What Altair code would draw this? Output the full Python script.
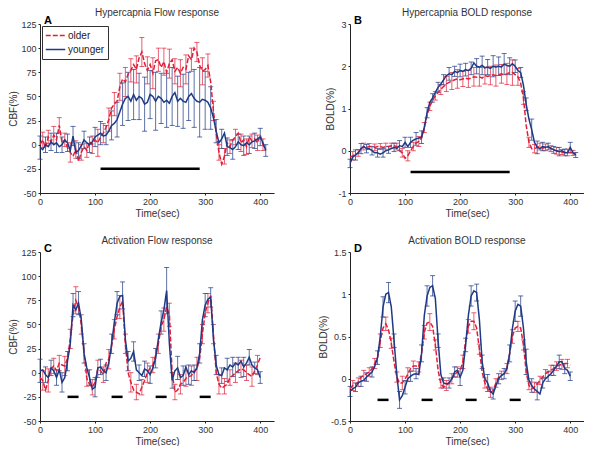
import altair as alt
import pandas as pd

# ---------------- time grids ----------------
T_HYP = list(range(0, 415, 5))   # 0..410
T_ACT = list(range(0, 405, 5))   # 0..400

# ---------------- Panel A: Hypercapnia Flow (CBF %) ----------------
A_older = [0, 5, -3, 8, 3, 10, 5, 20, 2, 5, -3, -8, -12, -5, -17, -8, -2, -6, 3, 0,
           5, 2, 8, 12, 18, 26, 38, 42, 45, 60, 68, 65, 73, 77, 83, 78, 90, 96, 84, 77,
           83, 74, 87, 88, 80, 86, 75, 84, 88, 76, 80, 74, 80, 78, 92, 88, 100, 96, 82, 76,
           78, 82, 65, 35, 12, -8, -20, -12, 2, -2, 5, 8, 12, 2, 5, -2, 8, 4, 6, 2,
           10, 0, -5]
A_younger = [-3, -5, 0, -2, 3, 0, 2, -2, 0, 5, 2, -6, 9, -8, -6, -1, 5, 2, 0, 3,
             8, 10, 12, 9, 10, 14, 20, 22, 26, 34, 42, 48, 50, 45, 52, 46, 50, 48, 42, 44,
             52, 50, 45, 50, 48, 44, 46, 43, 50, 54, 45, 48, 45, 44, 50, 53, 48, 45, 44, 47,
             46, 44, 38, 28, 14, 2, 6, 12, -2, -3, -5, -2, 3, 0, -1, 2, 0, 3, 4, 6,
             8, 2, -6]
A_err_t_older = list(range(5, 410, 10))
A_err_older = [8, 7, 9, 8, 7, 10, 9, 8, 7, 9, 14, 10, 12, 12, 14, 15, 12, 14, 15, 14,
               16, 12, 14, 15, 13, 14, 15, 12, 10, 14, 12, 10, 8, 8, 7, 8, 9, 8, 7, 8, 6]
A_err_t_younger = list(range(0, 415, 10))
A_err_younger = [12, 8, 9, 10, 8, 9, 10, 8, 9, 8, 10, 12, 10, 15, 18, 22, 25, 26, 24, 28,
                 25, 30, 26, 28, 30, 26, 28, 25, 30, 36, 30, 22, 12, 10, 9, 10, 8, 10, 9, 8,
                 9, 6]

# ---------------- Panel B: Hypercapnia BOLD (%) ----------------
B_older = [-0.15, -0.12, -0.08, -0.05, 0.05, 0.1, 0.08, 0.1, 0.1, 0.08, 0.1, 0.1, 0.08, 0.1,
           0.1, 0.12, 0.12, 0.1, 0.0, -0.05, -0.18, -0.12, 0.0, 0.1, 0.18, 0.22, 0.3, 0.55,
           0.85, 1.05, 1.2, 1.3, 1.38, 1.45, 1.52, 1.58, 1.62, 1.65, 1.68, 1.7, 1.68, 1.7,
           1.72, 1.7, 1.72, 1.75, 1.74, 1.75, 1.72, 1.78, 1.76, 1.78, 1.8, 1.78, 1.8, 1.82,
           1.8, 1.82, 1.85, 1.85, 1.8, 1.75, 1.6, 1.25, 0.6, 0.2, 0.05, 0.05, 0.08, 0.1,
           0.06, 0.08, 0.08, 0.05, 0.02, 0.0, -0.02, -0.03, -0.05, -0.04, -0.05, -0.05, -0.08]
B_younger = [-0.3, -0.15, -0.1, -0.05, 0.05, 0.1, 0.05, 0.05, 0.0, -0.05, -0.05, -0.08, -0.05,
             0.0, 0.02, 0.05, 0.08, 0.06, 0.12, 0.1, 0.2, 0.1, 0.2, 0.25, 0.28, 0.3, 0.32,
             0.55, 0.9, 1.15, 1.25, 1.38, 1.5, 1.58, 1.68, 1.78, 1.82, 1.8, 1.88, 1.85, 1.9,
             1.88, 1.92, 1.9, 1.95, 2.08, 2.0, 1.98, 2.02, 1.96, 1.98, 1.95, 2.0, 1.98, 2.0,
             1.98, 2.05, 2.02, 2.0, 2.06, 2.0, 1.9, 1.85, 1.55, 1.1, 0.75, 0.5, 0.2, 0.08,
             0.05, 0.1, 0.08, 0.1, 0.06, 0.02, 0.0, -0.02, 0.0, -0.04, -0.05, 0.08, -0.05, -0.1]
B_err_t_older = list(range(5, 410, 10))
B_err_older = [0.1, 0.08, 0.08, 0.07, 0.08, 0.07, 0.08, 0.06, 0.08, 0.1, 0.12, 0.1, 0.12, 0.12,
               0.1, 0.1, 0.12, 0.18, 0.2, 0.22, 0.18, 0.2, 0.22, 0.22, 0.2, 0.22, 0.25, 0.22,
               0.25, 0.3, 0.2, 0.15, 0.12, 0.1, 0.08, 0.08, 0.07, 0.08, 0.06, 0.08, 0.06]
B_err_t_younger = list(range(0, 415, 10))
B_err_younger = [0.1, 0.12, 0.12, 0.1, 0.1, 0.1, 0.1, 0.08, 0.1, 0.12, 0.12, 0.12, 0.15, 0.15,
                 0.12, 0.1, 0.12, 0.12, 0.15, 0.12, 0.15, 0.15, 0.15, 0.18, 0.22, 0.18, 0.25,
                 0.22, 0.25, 0.2, 0.15, 0.12, 0.15, 0.25, 0.15, 0.1, 0.08, 0.08, 0.1, 0.08,
                 0.12, 0.06]

# ---------------- Panel C: Activation Flow (CBF %) ----------------
C_older = [-5, -8, -18, -8, 4, 7, 2, 10, 8, 7, 15, 35, 60, 75, 68, 50, 20, -6, -12, -15,
           -10, 4, 2, -2, 10, 14, 27, 45, 58, 68, 74, 30, 0, -10, -18, -20, -22, -15, -8, 0,
           5, 8, 18, 30, 48, 55, 68, 60, 0, -20, -18, -12, -10, -6, -4, -3, 2, 4, 15, 40,
           62, 72, 80, 40, 0, -12, -16, -14, -12, -5, -3, 0, 2, 4, 3, 0, -2, -4, 2, 8, 16]
C_younger = [2, 3, -2, -5, 5, 2, -5, 3, -10, -5, 12, 30, 70, 65, 72, 55, 20, 5, -5, -17,
             -15, 5, 6, 2, 0, 10, 30, 52, 72, 79, 80, 35, 12, 15, 22, 3, 0, -3, 4, 2,
             -2, 5, 15, 35, 52, 65, 85, 30, -8, 2, 5, -5, -3, 6, -2, 2, 0, 5, 20, 55,
             70, 76, 78, 35, 8, -2, -3, 5, 3, 8, 6, 10, 8, 12, 6, 10, 16, 8, 5, 3, -5]
C_err_t_older = list(range(5, 400, 10))
C_err_older = [10, 12, 8, 8, 10, 10, 14, 10, 8, 8, 9, 8, 10, 10, 12, 10, 10, 8, 8, 10,
               8, 10, 12, 12, 8, 10, 8, 10, 12, 10, 10, 10, 10, 8, 8, 10, 9, 8, 10, 10]
C_err_t_younger = list(range(0, 405, 10))
C_err_younger = [12, 8, 8, 8, 10, 10, 12, 12, 10, 8, 10, 8, 8, 10, 12, 14, 10, 10, 8, 8,
                 9, 10, 12, 24, 8, 12, 10, 10, 8, 10, 12, 10, 10, 8, 12, 10, 8, 10, 8, 6, 6]

# ---------------- Panel D: Activation BOLD (%) ----------------
D_older = [-0.12, -0.08, -0.06, -0.04, 0.02, 0.04, 0.06, 0.08, 0.12, 0.18, 0.25, 0.45, 0.6,
           0.65, 0.58, 0.42, 0.2, 0.02, -0.05, -0.05, 0.0, 0.05, 0.12, 0.15, 0.15, 0.14, 0.3,
           0.55, 0.66, 0.67, 0.62, 0.4, 0.1, -0.06, -0.1, -0.08, -0.05, 0.0, 0.05, 0.08, 0.1,
           0.2, 0.45, 0.62, 0.68, 0.68, 0.6, 0.35, 0.08, -0.05, -0.12, -0.16, -0.14, -0.05,
           0.02, 0.04, 0.06, 0.12, 0.3, 0.5, 0.6, 0.62, 0.6, 0.4, 0.08, -0.08, -0.12, -0.1,
           -0.06, -0.02, 0.02, 0.06, 0.08, 0.1, 0.12, 0.15, 0.16, 0.17, 0.18, 0.18, 0.16]
D_younger = [-0.15, -0.12, -0.1, -0.05, -0.03, -0.02, 0.02, 0.05, 0.08, 0.15, 0.25, 0.5, 0.85,
             1.0, 1.02, 0.85, 0.45, 0.05, -0.25, -0.2, -0.1, 0.0, 0.03, 0.05, 0.06, 0.05, 0.3,
             0.75, 0.98, 1.08, 1.1, 0.95, 0.45, 0.05, -0.05, -0.06, -0.05, 0.0, 0.08, 0.1, 0.02,
             0.1, 0.4, 0.75, 0.98, 1.04, 1.02, 0.7, 0.2, 0.0, -0.05, -0.15, -0.18, -0.08, 0.0,
             0.04, 0.06, 0.12, 0.3, 0.6, 0.8, 0.88, 0.86, 0.6, 0.2, -0.02, -0.08, -0.12, -0.15,
             -0.18, -0.05, 0.0, 0.03, 0.06, 0.1, 0.15, 0.2, 0.2, 0.12, 0.1, 0.03]
D_err_t_older = list(range(5, 400, 10))
D_err_older = [0.06, 0.05, 0.06, 0.05, 0.06, 0.08, 0.08, 0.06, 0.06, 0.08, 0.08, 0.06, 0.06,
               0.08, 0.1, 0.06, 0.05, 0.06, 0.06, 0.06, 0.08, 0.08, 0.1, 0.06, 0.06, 0.06,
               0.05, 0.05, 0.06, 0.08, 0.06, 0.06, 0.05, 0.06, 0.05, 0.05, 0.06, 0.05, 0.06, 0.05]
D_err_t_younger = list(range(0, 405, 10))
D_err_younger = [0.06, 0.05, 0.06, 0.05, 0.06, 0.08, 0.12, 0.12, 0.08, 0.1, 0.08, 0.06, 0.06,
                 0.1, 0.12, 0.12, 0.08, 0.06, 0.06, 0.06, 0.1, 0.08, 0.12, 0.1, 0.08, 0.1, 0.06,
                 0.06, 0.06, 0.1, 0.12, 0.12, 0.15, 0.08, 0.1, 0.06, 0.06, 0.06, 0.08, 0.06, 0.05]

# ---------------- stimulus periods ----------------
HYP_STIM_START = [110]
HYP_STIM_END = [290]
ACT_STIM_START = [50, 130, 210, 290]
ACT_STIM_END = [70, 150, 230, 310]

X_TICKS = [0, 100, 200, 300, 400]
CBF_TICKS = [-50, -25, 0, 25, 50, 75, 100, 125]
HBOLD_TICKS = [-1, 0, 1, 2, 3]
ABOLD_TICKS = [-0.5, 0, 0.5, 1, 1.5]
GROUPS = ["older", "younger"]

RED = "#e0203a"
BLUE = "#1f3a85"
FONT = "Liberation Sans"
W, H = 234, 169


def panel(title, letter, ylab, ydom, yticks, times, older, younger,
          et_old, e_old, et_young, e_young, stim_s, stim_e, stim_y, show_legend):
    n = len(times)
    df = pd.DataFrame({"t": times + times, "v": older + younger,
                       "group": ["older"] * n + ["younger"] * n})
    lo_old = dict(zip(times, older))
    lo_young = dict(zip(times, younger))
    centers = [lo_old[t] for t in et_old] + [lo_young[t] for t in et_young]
    halfw = e_old + e_young
    err = pd.DataFrame({
        "t": et_old + et_young,
        "lo": [c - e for c, e in zip(centers, halfw)],
        "hi": [c + e for c, e in zip(centers, halfw)],
        "group": ["older"] * len(et_old) + ["younger"] * len(et_young),
    })
    stim = pd.DataFrame({"s": stim_s, "e": stim_e, "y": [stim_y] * len(stim_s)})

    xs = alt.Scale(domain=[0, 425], nice=False, zero=False)
    ys = alt.Scale(domain=ydom, nice=False, zero=False)
    xax = alt.Axis(values=X_TICKS, title="Time(sec)", grid=False, labelFlush=False)
    yax = alt.Axis(values=yticks, title=ylab, grid=False, labelFlush=False,
                   labelOverlap=False, labelExpr="'' + datum.value")

    layers = []
    for grp, col in [("older", RED), ("younger", BLUE)]:
        base = alt.Chart(err).transform_filter(alt.datum.group == grp)
        layers.append(base.mark_rule(color=col, strokeWidth=0.9, opacity=0.8).encode(
            x=alt.X("t:Q", scale=xs, axis=xax),
            y=alt.Y("lo:Q", scale=ys, axis=yax), y2="hi:Q"))
        for fld in ["lo", "hi"]:
            layers.append(base.mark_tick(color=col, orient="horizontal", size=5,
                                         thickness=0.9, opacity=0.8).encode(
                x=alt.X("t:Q", scale=xs, axis=xax),
                y=alt.Y(f"{fld}:Q", scale=ys, axis=yax)))

    if show_legend:
        leg = alt.Legend(title=None, orient="top-left", offset=2, symbolType="stroke",
                         symbolSize=380, symbolStrokeWidth=1.5, labelFontSize=10,
                         labelFont=FONT, labelColor="#222", strokeColor="#333",
                         fillColor="white", padding=3, rowPadding=1, clipHeight=13,
                         labelOffset=2)
    else:
        leg = None

    lines = alt.Chart(df).mark_line(strokeWidth=1.5, clip=True).encode(
        x=alt.X("t:Q", scale=xs, axis=xax),
        y=alt.Y("v:Q", scale=ys, axis=yax),
        color=alt.Color("group:N", scale=alt.Scale(domain=GROUPS, range=[RED, BLUE]), legend=leg),
        strokeDash=alt.StrokeDash("group:N",
                                  scale=alt.Scale(domain=GROUPS, range=[[5, 2], [1, 0]]),
                                  legend=leg),
    )
    layers.append(lines)

    layers.append(alt.Chart(stim).mark_rule(color="black", strokeWidth=2.5).encode(
        x=alt.X("s:Q", scale=xs, axis=xax), x2="e:Q",
        y=alt.Y("y:Q", scale=ys, axis=yax)))

    layers.append(alt.Chart(pd.DataFrame({"k": [letter]})).mark_text(
        align="left", baseline="alphabetic", fontWeight="bold", fontSize=11,
        font=FONT, color="black").encode(text="k:N", x=alt.value(4), y=alt.value(0)))

    return alt.layer(*layers).properties(
        width=W, height=H,
        title=alt.TitleParams(text=title, frame="group", anchor="middle", offset=-3))


pA = panel("Hypercapnia Flow response", "A", "CBF(%)", [-50, 125], CBF_TICKS, T_HYP,
           A_older, A_younger, A_err_t_older, A_err_older, A_err_t_younger, A_err_younger,
           HYP_STIM_START, HYP_STIM_END, -25, True)
pB = panel("Hypercapnia BOLD response", "B", "BOLD(%)", [-1, 3], HBOLD_TICKS, T_HYP,
           B_older, B_younger, B_err_t_older, B_err_older, B_err_t_younger, B_err_younger,
           HYP_STIM_START, HYP_STIM_END, -0.5, False)
pC = panel("Activation Flow response", "C", "CBF(%)", [-50, 125], CBF_TICKS, T_ACT,
           C_older, C_younger, C_err_t_older, C_err_older, C_err_t_younger, C_err_younger,
           ACT_STIM_START, ACT_STIM_END, -25, False)
pD = panel("Activation BOLD response", "D", "BOLD(%)", [-0.5, 1.5], ABOLD_TICKS, T_ACT,
           D_older, D_younger, D_err_t_older, D_err_older, D_err_t_younger, D_err_younger,
           ACT_STIM_START, ACT_STIM_END, -0.25, False)

chart = alt.concat(pA, pB, pC, pD, columns=2, spacing={"row": 18, "column": 44}).resolve_scale(
    color="independent", strokeDash="independent"
).resolve_legend(
    color="independent", strokeDash="independent"
).properties(padding=0).configure_axis(
    labelFont=FONT, titleFont=FONT, labelFontSize=9, titleFontSize=10,
    titleFontWeight="normal", labelColor="#333", titleColor="#333",
    domainColor="#222", tickColor="#222", tickSize=2, labelPadding=2, titlePadding=2
).configure_view(stroke=None).configure_title(
    font=FONT, fontSize=10, fontWeight="normal", color="#333"
)

chart.save("out.html", embed_options={"renderer": "svg", "actions": False})
